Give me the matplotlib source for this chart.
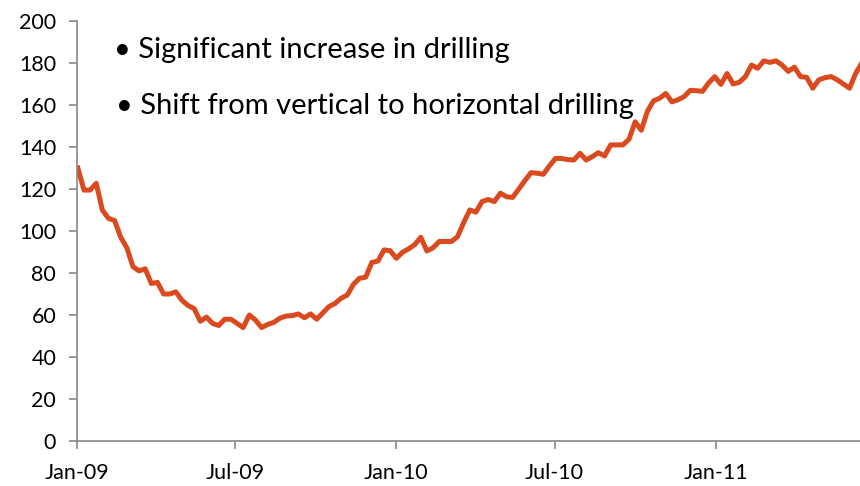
import datetime as dt
import matplotlib
matplotlib.use('Agg')
import matplotlib.pyplot as plt
import matplotlib.dates as mdates

plt.rcParams['font.family'] = ['Lato', 'DejaVu Sans']

# weekly rig count, first week ending Jan 2 2009
start = dt.date(2009, 1, 2)
rigs = [130, 119.5, 119.5, 122.7, 110, 106, 105, 97, 92, 83,
        81, 82, 75, 75.5, 70, 70, 71, 67, 64.5, 63,
        57, 59, 56, 55, 58, 58, 56, 54, 60, 57.6,
        54, 55.5, 56.5, 58.5, 59.5, 59.7, 60.5, 58.7, 60.5, 58,
        61, 64, 65.5, 68, 69.5, 74.6, 77.5, 78, 85, 85.7,
        91, 90.6, 87, 89.8, 91.5, 93.5, 97, 90.5, 92, 95,
        95, 95, 97.3, 104, 110, 109, 114, 115, 114, 118,
        116.3, 116, 120, 124, 127.8, 127.5, 127, 131, 134.6, 134.5,
        134, 133.8, 137, 133.8, 135.4, 137.3, 135.7, 141, 141, 141,
        143.7, 152, 148, 157, 162, 163.2, 165.5, 161.5, 162.5, 164,
        167, 166.8, 166.5, 170.5, 173.5, 169.8, 175, 170, 170.8, 173.5,
        179, 177.5, 181, 180.3, 181, 179, 176, 178, 173.5, 173.2,
        168, 172, 173, 173.5, 172, 170, 168, 175, 180]
weeks = [start + dt.timedelta(days=7 * i) for i in range(len(rigs))]

tick_dates = [dt.date(2009, 1, 1), dt.date(2009, 7, 1), dt.date(2010, 1, 1),
              dt.date(2010, 7, 1), dt.date(2011, 1, 1)]
tick_labels = ['Jan-09', 'Jul-09', 'Jan-10', 'Jul-10', 'Jan-11']
notes = ['Significant increase in drilling',
         'Shift from vertical to horizontal drilling']

fig = plt.figure(figsize=(8.6, 4.86), dpi=100)
ax = fig.add_axes([0.0895, 0.0926, 0.9105, 0.8642])
ax.plot(weeks, rigs, color='#DA4A1E', lw=3.6, solid_joinstyle='round')

ax.set_ylim(0, 200)
ax.set_yticks(range(0, 201, 20))
ax.set_xlim(mdates.date2num(dt.date(2009, 1, 1)), mdates.date2num(dt.date(2011, 6, 15)))
ax.set_xticks([mdates.date2num(d) for d in tick_dates])
ax.set_xticklabels(tick_labels)

for s in ['top', 'right']:
    ax.spines[s].set_visible(False)
for s in ['left', 'bottom']:
    ax.spines[s].set_color('#888888')
    ax.spines[s].set_linewidth(1.2)
ax.tick_params(axis='both', direction='out', length=6, width=1.2, color='#888888',
               labelsize=15.5, labelcolor='black')
ax.tick_params(axis='x', pad=10)
ax.tick_params(axis='y', pad=9)

ax.text(0.047, 0.931, '\u2022 ' + notes[0], transform=ax.transAxes, fontsize=21,
        va='center', ha='left')
ax.text(0.050, 0.798, '\u2022 ' + notes[1], transform=ax.transAxes, fontsize=21,
        va='center', ha='left')

fig.savefig('out.png', dpi=100)
